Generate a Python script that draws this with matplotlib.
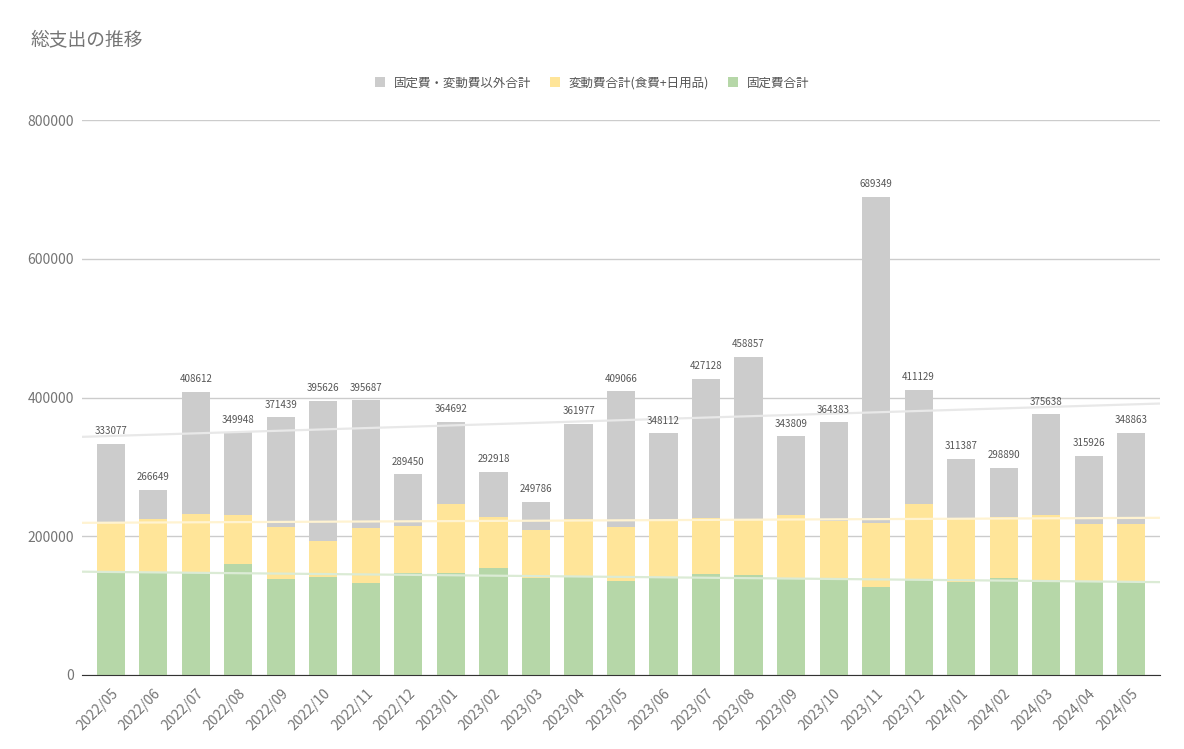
import matplotlib
matplotlib.use("Agg")
import matplotlib.pyplot as plt
import numpy as np

plt.rcParams['font.family'] = ['Noto Sans CJK JP', 'DejaVu Sans']

months = ["2022/05", "2022/06", "2022/07", "2022/08", "2022/09", "2022/10",
          "2022/11", "2022/12", "2023/01", "2023/02", "2023/03", "2023/04",
          "2023/05", "2023/06", "2023/07", "2023/08", "2023/09", "2023/10",
          "2023/11", "2023/12", "2024/01", "2024/02", "2024/03", "2024/04",
          "2024/05"]

# 合計 (ラベルの値)
totals = [333077, 266649, 408612, 349948, 371439, 395626, 395687, 289450,
          364692, 292918, 249786, 361977, 409066, 348112, 427128, 458857,
          343809, 364383, 689349, 411129, 311387, 298890, 375638, 315926,
          348863]

# 固定費合計 (読み取り値)
fixed = [147400, 147400, 147400, 160400, 138400, 141300, 132600, 147400,
         147400, 154200, 140300, 142700, 135900, 140300, 145600, 144100,
         138800, 137400, 126800, 137400, 134500, 140300, 136900, 135500,
         134500]

# 変動費合計(食費+日用品) (読み取り値)
variable = [72100, 77500, 84600, 70200, 74900, 51800, 79300, 67400,
            99100, 73500, 68700, 82200, 77400, 83500, 80700, 80800,
            91800, 85000, 92700, 109500, 90400, 87400, 93700, 82100,
            83100]

other = [t - f - v for t, f, v in zip(totals, fixed, variable)]

labels = ["固定費・変動費以外合計", "変動費合計(食費+日用品)", "固定費合計"]
c_fixed = "#b6d7a8"
c_var = "#ffe599"
c_other = "#cccccc"
txt = "#757575"

fig = plt.figure(figsize=(11.84, 7.49), dpi=100)
ax = fig.add_axes([82 / 1184, 1 - 675 / 749, 1078 / 1184, 555 / 749])

x = np.arange(len(months))
w = 0.66
fixed = np.array(fixed)
variable = np.array(variable)
other = np.array(other)

b_fixed = ax.bar(x, fixed, w, color=c_fixed, zorder=2)
b_var = ax.bar(x, variable, w, bottom=fixed, color=c_var, zorder=2)
b_other = ax.bar(x, other, w, bottom=fixed + variable, color=c_other, zorder=2)

# trend lines (linear fit of the stacked levels)
xl = np.array([-0.68, len(months) - 0.32])
for vals, col in [(fixed + variable + other, "#e8e8e8"),
                  (fixed + variable, "#fff3d1"),
                  (fixed, "#dbebd5")]:
    k, b = np.polyfit(x, vals, 1)
    ax.plot(xl, k * xl + b, color=col, lw=1.6, zorder=3, solid_capstyle="butt")

for xi, t in zip(x, totals):
    ax.annotate(str(t), (xi, t), xytext=(0, 5.5), textcoords="offset points",
                ha="center", va="bottom", fontsize=7, color="#555555")

ax.set_xlim(xl[0], xl[1])
ax.set_ylim(0, 800000)
ax.set_yticks([0, 200000, 400000, 600000, 800000])
ax.set_yticklabels(["0", "200000", "400000", "600000", "800000"])
ax.yaxis.grid(True, color="#cccccc", lw=1, zorder=0)
ax.set_axisbelow(True)
ax.set_xticks(x)
ax.set_xticklabels(months, rotation=45, ha="right", rotation_mode="anchor")
ax.tick_params(axis="both", length=0, colors=txt, labelsize=10)
ax.tick_params(axis="x", pad=8)
ax.tick_params(axis="y", pad=6)
for s in ["top", "right", "left"]:
    ax.spines[s].set_visible(False)
ax.spines["bottom"].set_color("#333333")
ax.spines["bottom"].set_zorder(4)

fig.text(30 / 1184, 1 - 40 / 749, "総支出の推移", fontsize=13.5, color=txt,
         va="center", ha="left")

fig.legend([b_other, b_var, b_fixed], labels, loc="center",
           bbox_to_anchor=(0.5, 1 - 83 / 749), ncol=3, frameon=False,
           fontsize=9, labelcolor="#555555", handlelength=0.8,
           handleheight=0.8, handletextpad=0.7, columnspacing=1.5)

fig.savefig("out.png", dpi=100)
